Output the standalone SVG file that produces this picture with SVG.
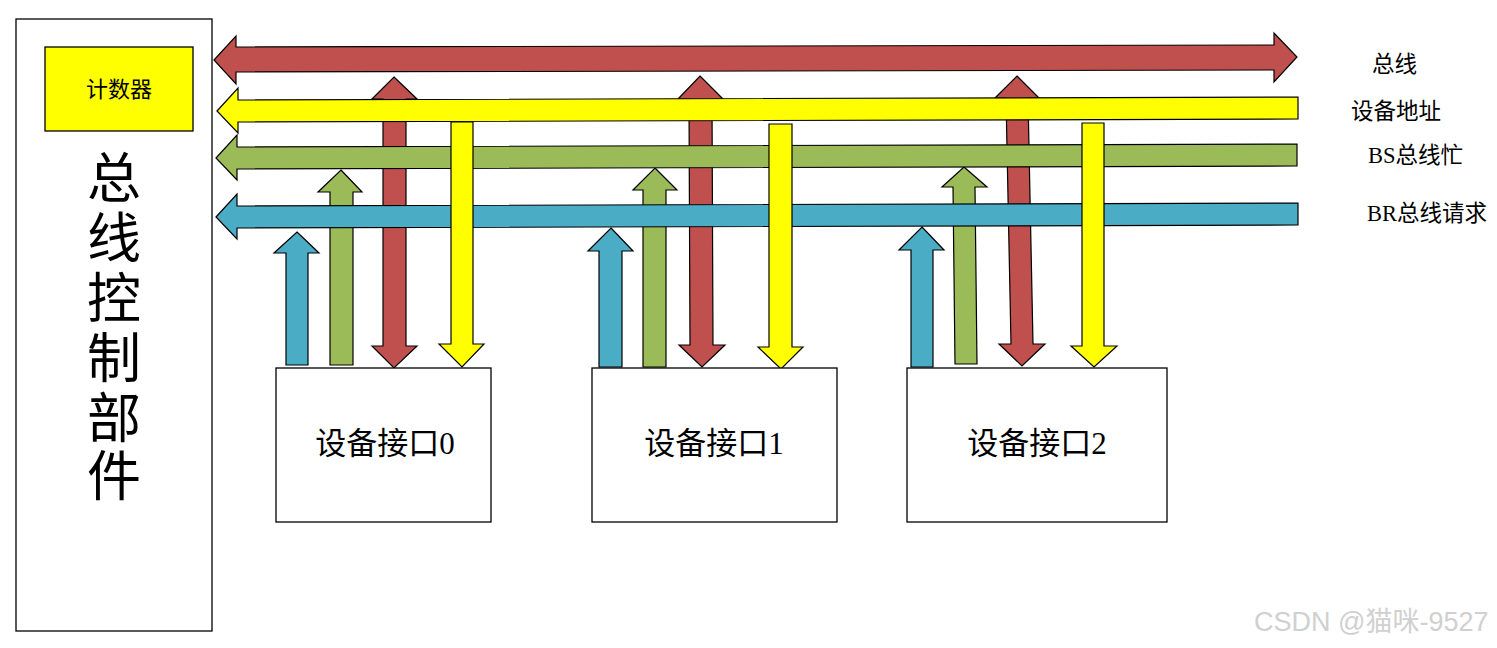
<svg xmlns="http://www.w3.org/2000/svg" width="1497" height="648" viewBox="0 0 1497 648">
<style>
.box{fill:#fff;stroke:#000;stroke-width:1.3}
.r{fill:#C0504D;stroke:#000;stroke-width:1.2}
.y{fill:#FFFF00;stroke:#000;stroke-width:1.2}
.g{fill:#9BBB59;stroke:#000;stroke-width:1.2}
.b{fill:#4BACC6;stroke:#000;stroke-width:1.2}
.t{font-family:"Liberation Serif","Noto Sans CJK SC",serif;fill:#000}
</style>
<rect width="1497" height="648" fill="#fff"/>
<g id="controller">
<rect class="box" x="16" y="19" width="196" height="612"/>
<text class="t" x="114" y="0" font-size="54" text-anchor="middle">
<tspan x="114" y="198">总</tspan><tspan x="114" y="258">线</tspan><tspan x="114" y="318">控</tspan><tspan x="114" y="378">制</tspan><tspan x="114" y="438">部</tspan><tspan x="114" y="496">件</tspan></text>
</g>
<g id="counter">
<rect x="45" y="47" width="148" height="84" fill="#FFFF00" stroke="#000" stroke-width="1.3"/>
<text class="t" x="119" y="97" font-size="22" text-anchor="middle">计数器</text>
</g>
<g id="connectors">
<polygon class="r" points="394,77 417,99 406,99 406,346 417,346 394,368 372,346 383,346 383,99 372,99"/>
<polygon class="r" points="700,76 723,99 712,99 713,345 725,345 702,367 679,345 690,345 689,99 678,99"/>
<polygon class="r" points="1017,76 1039,98 1028,98 1033,344 1045,344 1022,366 999,344 1011,344 1006,98 995,98"/>
<polygon class="g" points="341,170 362,192 353,192 353,365 330,365 330,192 318,192"/>
<polygon class="g" points="655,168 677,190 666,190 666,367 643,367 643,190 633,190"/>
<polygon class="g" points="964,167 987,187 975,187 977,364 955,364 953,187 942,187"/>
<polygon class="r" points="214,60 236,36 236,47 1274,45 1274,33 1297,57 1274,82 1274,70 236,72 236,84"/>
<polygon class="y" points="217,111 238,88 238,100 1298,97 1298,119 238,122 238,133"/>
<polygon class="g" points="216,158 237,135 237,147 1297,144 1297,166 237,169 237,180"/>
<polygon class="b" points="216,217 237,194 237,206 1298,203 1298,225 237,228 237,239"/>
<polygon class="y" points="451,122 473,122 473,344 484,344 462,367 439,344 451,344"/>
<polygon class="y" points="769,124 792,124 792,347 803,347 781,369 758,347 769,347"/>
<polygon class="y" points="1082,123 1104,123 1104,346 1117,346 1094,367 1071,346 1082,346"/>
<polygon class="b" points="297,232 319,253 308,253 308,365 286,365 286,253 274,253"/>
<polygon class="b" points="611,228 633,251 622,251 622,367 599,367 599,251 588,251"/>
<polygon class="b" points="922,227 944,250 933,250 933,367 911,367 911,250 899,250"/>
</g>
<g id="device0">
<rect class="box" x="276" y="368" width="215" height="154"/>
<text class="t" x="385" y="454" font-size="31" text-anchor="middle">设备接口0</text>
</g>
<g id="device1">
<rect class="box" x="592" y="368" width="245" height="154"/>
<text class="t" x="714" y="454" font-size="31" text-anchor="middle">设备接口1</text>
</g>
<g id="device2">
<rect class="box" x="907" y="368" width="260" height="154"/>
<text class="t" x="1037" y="454" font-size="31" text-anchor="middle">设备接口2</text>
</g>
<g id="labels">
<text class="t" x="1372" y="72" font-size="22.5">总线</text>
<text class="t" x="1351" y="119" font-size="22.5">设备地址</text>
<text class="t" x="1368" y="163" font-size="22.5">BS总线忙</text>
<text class="t" x="1367" y="221" font-size="22.5">BR总线请求</text>
</g>
<text x="1254" y="631" font-family="'Liberation Sans','Noto Sans CJK SC',sans-serif" font-size="27" fill="#d0d0d0">CSDN @猫咪-9527</text>
</svg>
